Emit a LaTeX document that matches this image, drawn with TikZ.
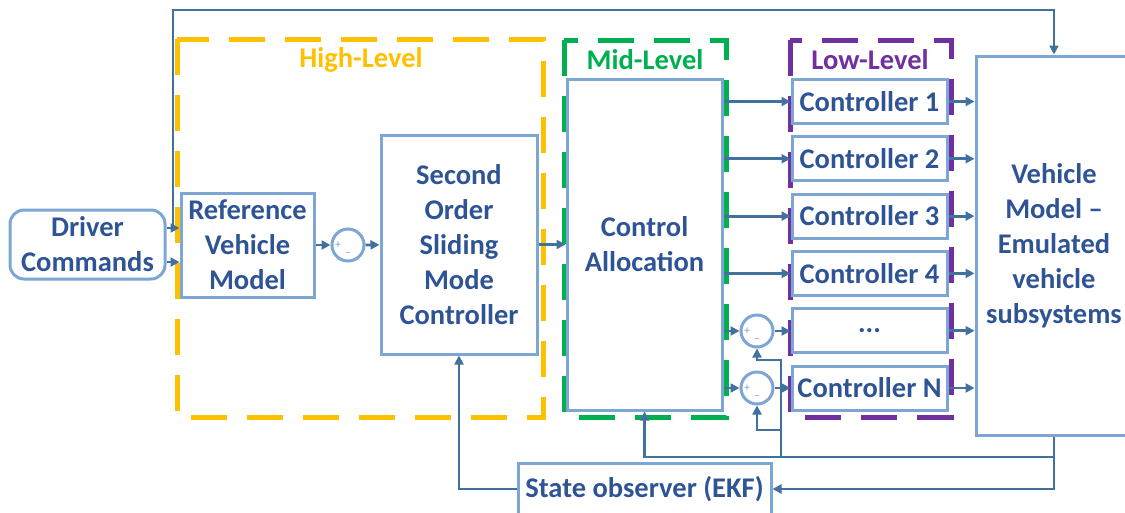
\documentclass[tikz,border=0pt]{standalone}
\usepackage{fontspec}
\setmainfont{Carlito}
\usetikzlibrary{arrows.meta}

\definecolor{boxblue}{RGB}{125,166,212}
\definecolor{linkblue}{RGB}{65,113,156}
\definecolor{textblue}{RGB}{47,84,150}
\definecolor{highorange}{RGB}{255,192,0}
\definecolor{midgreen}{RGB}{0,176,80}
\definecolor{lowpurple}{RGB}{112,48,160}

\begin{document}
\begin{tikzpicture}[x=1pt, y=-1pt,
    block/.style={draw=boxblue, line width=3pt, align=center, inner sep=0pt,
        text=textblue, font=\fontsize{28.5}{35}\selectfont\bfseries},
    sumnode/.style={circle, draw=boxblue, line width=3pt, minimum size=32pt, inner sep=0pt},
    sign/.style={text=boxblue, font=\fontsize{12}{12}\selectfont, inner sep=0pt},
    link/.style={draw=linkblue, line width=2.8pt},
    flow/.style={link, -{Triangle[length=9pt,width=9pt]}},
    frame/.style={line width=5pt, dash pattern=on 36pt off 20pt},
    framelabel/.style={font=\fontsize{28.5}{35}\selectfont\bfseries, inner sep=0pt}]

    \useasboundingbox (0,0) rectangle (1125,512);

    % Dashed frames for the three levels
    \draw[frame, highorange] (177,39) rectangle (543,417);
    \draw[frame, midgreen] (564,40) rectangle (726,417);
    \draw[frame, lowpurple] (790,40) rectangle (951,417);
    \node[framelabel, text=highorange] (highlabel) at (361,60) {High-Level};
    \node[framelabel, text=midgreen] (midlabel) at (645,60) {Mid-Level};
    \node[framelabel, text=lowpurple] (lowlabel) at (870,60) {Low-Level};

    % Blocks of the main row
    \node[block, rounded corners=14pt, minimum width=155pt, minimum height=69pt] (drv) at (87.5,244.5) {Driver\\Commands};
    \node[block, minimum width=133pt, minimum height=104pt] (refmodel) at (247.5,245) {Reference\\Vehicle\\Model};
    \node[sumnode] (sum1) at (348,245) {};
    \node[block, minimum width=156pt, minimum height=219pt] (smc) at (459,244.5) {Second\\Order\\Sliding\\Mode\\Controller};
    \node[block, minimum width=155pt, minimum height=331pt] (alloc) at (644.5,244.5) {Control\\Allocation};

    % Low-level controllers
    \foreach \k/\y in {1/101.5, 2/158.8, 3/216.1, 4/273.4}
        \node[block, minimum width=155pt, minimum height=44pt] (ctrl\k) at (869.5,\y) {Controller \k};
    \node[block, minimum width=155pt, minimum height=44pt] (ctrldots) at (869.5,330.7) {...};
    \node[block, minimum width=155pt, minimum height=44pt] (ctrlN) at (869.5,388) {Controller N};
    \node[sumnode] (sum2) at (757,331) {};
    \node[sumnode] (sum3) at (757,388) {};

    % Plant and observer
    \node[block, minimum width=156pt, minimum height=379pt] (vehicle) at (1054,245.5) {Vehicle\\Model --\\Emulated\\vehicle\\subsystems};
    \node[block, minimum width=253pt, minimum height=52pt] (observer) at (644.5,489) {State observer (EKF)};

    % Signs of the summing junctions
    \foreach \s in {sum1, sum2, sum3} {
        \node[sign] (\s plus) at ([xshift=-10pt]\s.center) {+};
        \node[sign] (\s minus) at ([yshift=-10pt]\s.center) {--};
    }

    % Driver commands, split to the reference model and the vehicle
    \coordinate (split) at (173,228);
    \coordinate (drvlow) at (0,262);
    \coordinate (topline) at (600,10);
    \draw[link] (drv.east |- split) -- (split);
    \draw[flow] (split) -- (refmodel.west |- split);
    \draw[flow] (split) |- (topline) -| (vehicle.north);
    \draw[flow] (drv.east |- drvlow) -- (refmodel.west |- drvlow);

    % Forward path
    \draw[flow] (refmodel) -- (sum1);
    \draw[flow] (sum1) -- (smc);
    \draw[flow] (smc) -- (alloc);
    \foreach \k in {1,2,3,4}
        \draw[flow] (alloc.east |- ctrl\k.west) -- (ctrl\k.west);
    \draw[flow] (alloc.east |- sum2.west) -- (sum2.west);
    \draw[flow] (alloc.east |- sum3.west) -- (sum3.west);
    \draw[flow] (sum2.east) -- (ctrldots.west |- sum2.east);
    \draw[flow] (sum3.east) -- (ctrlN.west |- sum3.east);
    \foreach \k in {1,2,3,4,dots,N}
        \draw[flow] (ctrl\k.east) -- (vehicle.west |- ctrl\k.east);

    % Feedback from the vehicle
    \coordinate (fb) at (1054,457);
    \coordinate (fbsum) at (781,457);
    \coordinate (fbtop) at (781,360);
    \coordinate (fbmid) at (781,430);
    \draw[flow] (vehicle.south) |- (observer.east);
    \draw[flow] (fb) -| (alloc.south);
    \draw[flow] (fbsum) -- (fbtop) -| (sum2.south);
    \draw[flow] (fbmid) -| (sum3.south);
    \draw[flow] (observer.west) -| (smc.south);

\end{tikzpicture}
\end{document}
